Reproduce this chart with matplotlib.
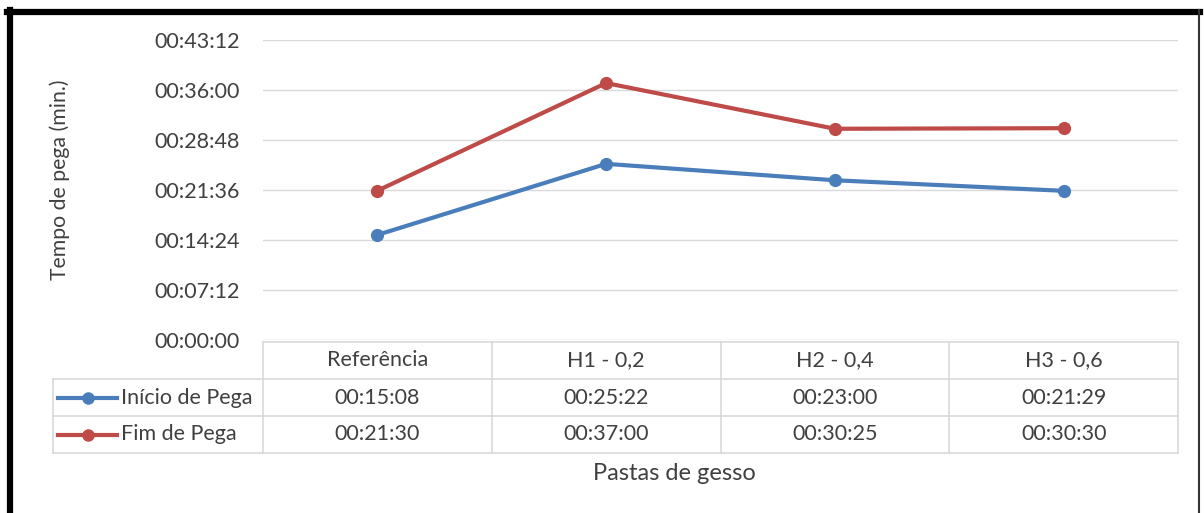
import matplotlib
matplotlib.use("Agg")
import matplotlib.pyplot as plt
from matplotlib.lines import Line2D

plt.rcParams["font.family"] = ["Lato", "DejaVu Sans"]

categorias = ["Referência", "H1 - 0,2", "H2 - 0,4", "H3 - 0,6"]
inicio_pega = ["00:15:08", "00:25:22", "00:23:00", "00:21:29"]
fim_pega = ["00:21:30", "00:37:00", "00:30:25", "00:30:30"]
series_nomes = ["Início de Pega", "Fim de Pega"]
cores = ["#4A7EBB", "#BE4B48"]
y_ticks = ["00:00:00", "00:07:12", "00:14:24", "00:21:36", "00:28:48", "00:36:00", "00:43:12"]

TXT = "#404040"
GRID = "#D9D9D9"
FS = 15.5      # ticks and table
W, H = 1204, 513


def to_sec(s):
    h, m, sec = (int(v) for v in s.split(":"))
    return h * 3600 + m * 60 + sec


def fig_rect(x0, y0, x1, y1):
    # pixel box (top-left origin) -> figure fraction rect
    return [x0 / W, 1 - y1 / H, (x1 - x0) / W, (y1 - y0) / H]


fig = plt.figure(figsize=(W / 100, H / 100), dpi=100)
fig.patch.set_facecolor("white")

# plot area
ax = fig.add_axes(fig_rect(263, 40, 1178, 340))
xs = list(range(len(categorias)))
series = [[to_sec(v) for v in inicio_pega], [to_sec(v) for v in fim_pega]]
for vals, cor in zip(series, cores):
    ax.plot(xs, vals, color=cor, lw=3, marker="o", ms=8.5, solid_capstyle="round")

yt = [to_sec(t) for t in y_ticks]
ax.set_ylim(yt[0], yt[-1])
ax.set_xlim(-0.5, len(categorias) - 0.5)
ax.set_yticks(yt)
ax.set_yticklabels(y_ticks)
ax.set_xticks([])
ax.tick_params(axis="y", length=0, pad=16.5, labelsize=FS, labelcolor=TXT)
ax.grid(axis="y", color=GRID, lw=1)
ax.set_axisbelow(True)
for sp in ax.spines.values():
    sp.set_visible(False)
ax.patch.set_alpha(0)

fig.text(60 / W, 1 - 180 / H, "Tempo de pega (min.)", rotation=90,
         ha="center", va="center", fontsize=15.3, color=TXT)
fig.text(674 / W, 1 - 473 / H, "Pastas de gesso",
         ha="center", va="center", fontsize=17, color=TXT)

# data table, same x scale as the plot, extended to the left
col_w = (1178 - 263) / len(categorias)
left_x = -0.5 - (263 - 53) / col_w
tab = fig.add_axes(fig_rect(53, 342, 1178, 453))
tab.set_xlim(left_x, len(categorias) - 0.5)
tab.set_ylim(3, 0)
tab.axis("off")

kw = dict(color=GRID, lw=1.2, clip_on=False)
tab.plot([-0.5, len(categorias) - 0.5], [0, 0], **kw)
for r in (1, 2, 3):
    tab.plot([left_x, len(categorias) - 0.5], [r, r], **kw)
tab.plot([left_x, left_x], [1, 3], **kw)
for c in range(len(categorias) + 1):
    tab.plot([c - 0.5, c - 0.5], [0, 3], **kw)

for i, cat in enumerate(categorias):
    tab.text(i, 0.5, cat, ha="center", va="center", fontsize=FS, color=TXT)
for r, (nome, vals, cor) in enumerate(zip(series_nomes, [inicio_pega, fim_pega], cores)):
    yr = r + 1.5
    k0 = left_x + 5 / col_w
    k1 = left_x + 64 / col_w
    tab.plot([k0, k1], [yr, yr], color=cor, lw=3, clip_on=False)
    tab.plot([(k0 + k1) / 2], [yr], color=cor, marker="o", ms=8, clip_on=False)
    tab.text(left_x + 68 / col_w, yr, nome, ha="left", va="center", fontsize=FS, color=TXT)
    for i, v in enumerate(vals):
        tab.text(i, yr, v, ha="center", va="center", fontsize=FS, color=TXT)

# frame around the screenshot
fig.add_artist(Line2D([7 / W, 1200 / W], [1 - 12 / H, 1 - 12 / H], color="black", lw=4.5))
fig.add_artist(Line2D([10 / W, 10 / W], [1 - 10 / H, 0], color="black", lw=4.5))
fig.add_artist(Line2D([1199 / W, 1199 / W], [1 - 10 / H, 0], color="#333333", lw=1.5))

fig.savefig("out.png", dpi=100)
